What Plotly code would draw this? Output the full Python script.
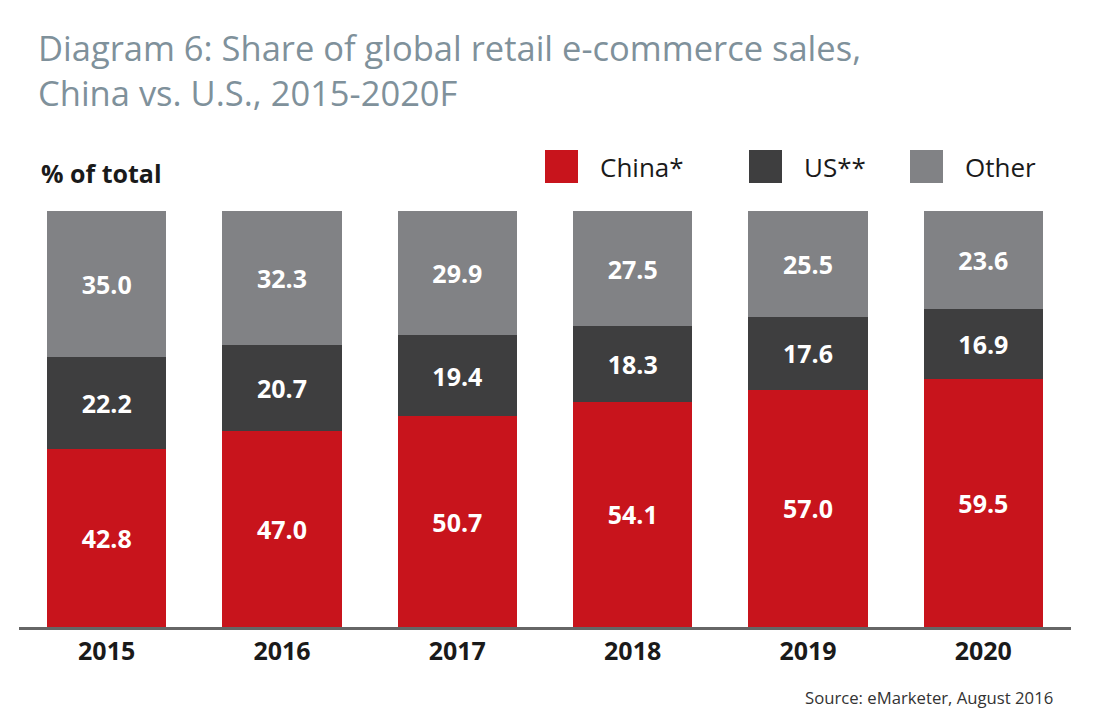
import plotly.graph_objects as go

# Data (share of global retail e-commerce sales, %)
years = ["2015", "2016", "2017", "2018", "2019", "2020"]
china = [42.8, 47.0, 50.7, 54.1, 57.0, 59.5]
us = [22.2, 20.7, 19.4, 18.3, 17.6, 16.9]
other = [35.0, 32.3, 29.9, 27.5, 25.5, 23.6]
series_names = ["China*", "US**", "Other"]

RED = "#c8141c"
DARK = "#3e3e3f"
GREY = "#818285"
FONT = "Open Sans"


# page pixel -> paper coords (page has an 8px body margin)
def px(x):
    return (x - 19) / 1052


def py(y):
    return (627 - y) / 416


fig = go.Figure()
for name, vals, col in zip(series_names, [china, us, other], [RED, DARK, GREY]):
    fig.add_trace(go.Bar(
        x=years, y=vals, name=name, marker_color=col, marker_line_width=0,
        text=[f"{v:.1f}" for v in vals], textposition="inside",
        insidetextanchor="middle",
        textfont=dict(family=FONT, size=25, color="white", weight="bold"),
        showlegend=False,
    ))

# Legend drawn by hand so the squares are large like the original
legend_x = [545, 749, 910]
for name, col, lx in zip(series_names, [RED, DARK, GREY], legend_x):
    fig.add_shape(type="rect", xref="paper", yref="paper",
                  x0=px(lx), x1=px(lx + 33), y0=py(183), y1=py(150),
                  fillcolor=col, line_width=0)
    fig.add_annotation(text=name, xref="paper", yref="paper",
                       x=px(lx + 53), y=py(167),
                       xanchor="left", yanchor="middle", showarrow=False,
                       font=dict(family=FONT, size=26, color="#1a1a1a"))

fig.add_annotation(text="<b>% of total</b>", xref="paper", yref="paper",
                   x=px(39), y=py(173),
                   xanchor="left", yanchor="middle", showarrow=False,
                   font=dict(family=FONT, size=25, color="#1a1a1a"))

fig.add_annotation(text="Source: eMarketer, August 2016", xref="paper", yref="paper",
                   x=px(1055), y=py(697),
                   xanchor="right", yanchor="middle", showarrow=False,
                   font=dict(family=FONT, size=16.7, color="#333333"))

fig.update_layout(
    width=1098, height=720,
    barmode="stack", bargap=0.32,
    plot_bgcolor="white", paper_bgcolor="white",
    margin=dict(l=11, r=35, t=203, b=101),
    title=dict(text="Diagram 6: Share of global retail e-commerce sales,<br>China vs. U.S., 2015-2020F",
               x=30 / 1098, xanchor="left", y=1 - 53 / 720, yanchor="middle",
               font=dict(family=FONT, size=34.5, color="#7f919b")),
    uniformtext=dict(minsize=10, mode="show"),
)
fig.update_xaxes(showline=True, linecolor="#666666", linewidth=3, ticks="",
                 tickfont=dict(family=FONT, size=25, color="#1a1a1a", weight="bold"))
fig.update_yaxes(range=[0, 100], visible=False)

fig.write_html("out.html")
